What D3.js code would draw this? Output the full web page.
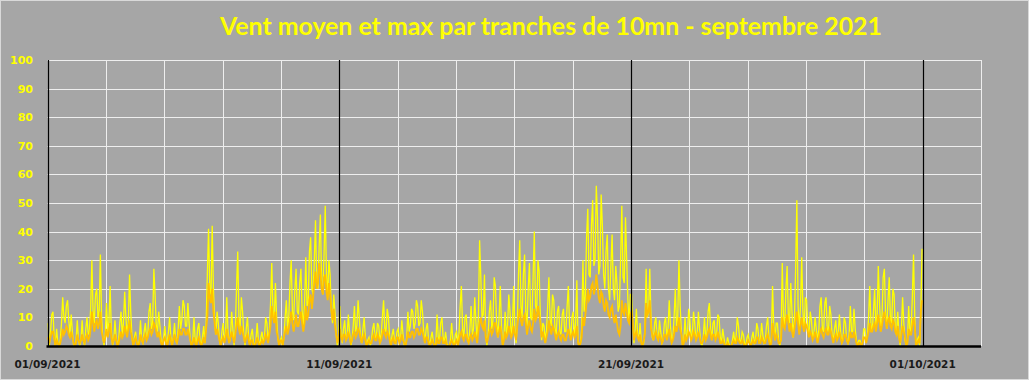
<!DOCTYPE html>
<html><head><meta charset="utf-8">
<script src="https://cdn.jsdelivr.net/npm/d3@7"></script>
<style>html,body{margin:0;padding:0;background:#a6a6a6;overflow:hidden}svg{display:block}</style>
</head><body>
<svg id="chart" width="1029" height="380"></svg>
<script>
const chartTitle = "Vent moyen et max par tranches de 10mn - septembre 2021";
const dateLabels = ["01/09/2021", "11/09/2021", "21/09/2021", "01/10/2021"];
const labelDays = [0, 10, 20, 30];
const yTicks = [0, 10, 20, 30, 40, 50, 60, 70, 80, 90, 100];
const stepHours = 2; // one slot per 2 hours, 12 per day: highest and lowest reading in each slot

// Vent max (km/h) - highest 10-min reading in each 2-hour slot, one row per day (01/09 .. 30/09)
const ventMaxHaut = [
  8,11,12,6,1,8,17,14,16,11,5,2,
  9,2,9,6,10,13,30,18,20,32,10,4,
  15,21,6,9,3,8,12,19,10,25,12,3,
  5,2,9,5,8,12,15,27,18,12,7,3,
  7,5,10,3,8,6,14,16,14,15,8,2,
  10,6,8,3,7,25,41,42,20,12,8,5,
  8,17,5,12,6,20,33,17,12,6,10,4,
  6,2,8,3,5,10,8,15,29,22,10,2,
  3,10,16,22,30,20,27,22,27,15,31,33,
  38,30,44,35,46,32,49,30,25,18,12,4,
  14,6,9,11,5,7,14,16,10,6,10,2,
  3,6,8,8,7,10,16,13,10,4,6,5,
  6,9,4,3,12,13,12,16,14,16,12,6,
  8,3,5,1,11,8,10,5,1,2,8,4,
  5,14,21,10,11,6,14,17,8,37,24,25,
  4,12,16,24,21,10,21,3,12,18,12,21,
  6,25,37,25,32,20,29,24,40,30,26,8,
  7,14,24,18,16,12,14,11,13,14,21,10,
  12,23,2,6,30,38,48,42,51,56,45,53,
  42,33,39,28,39,28,22,30,49,45,30,18,
  18,6,13,8,2,6,27,27,10,8,10,9,
  5,8,10,16,7,10,20,30,14,2,10,13,
  9,12,8,12,6,3,10,12,15,8,9,11,
  10,6,3,3,1,2,5,10,7,5,4,3,
  4,3,5,8,6,8,4,7,10,3,21,8,
  8,3,29,20,28,22,12,27,51,14,31,17,
  16,12,9,10,6,14,17,15,17,14,11,6,
  9,11,5,10,8,4,14,13,6,2,2,6,
  6,10,21,12,20,28,15,24,27,16,24,20,
  18,12,4,17,8,2,14,17,32,2,3,34
];
// Vent max - lowest 10-min reading in each 2-hour slot
const ventMaxBas = [
  0,5,3,0,0,2,10,8,9,4,0,0,
  2,0,2,0,4,5,12,8,10,12,3,0,
  5,8,0,2,0,2,4,8,4,8,3,0,
  1,0,2,1,2,4,6,8,7,5,2,0,
  2,1,3,0,2,1,6,9,7,7,2,0,
  2,1,2,0,1,8,20,18,9,4,2,0,
  2,4,1,3,0,6,10,6,4,0,3,0,
  1,0,2,0,1,3,2,5,12,9,3,0,
  0,3,6,10,12,9,12,11,12,7,14,15,
  20,18,22,20,22,18,25,17,12,8,4,0,
  4,1,2,3,0,2,5,7,3,1,3,0,
  0,2,3,3,2,4,6,5,3,0,2,1,
  2,3,0,0,5,7,6,8,7,8,5,1,
  2,0,1,0,3,2,3,1,0,0,2,0,
  1,4,6,3,3,1,4,6,2,10,10,11,
  0,4,6,9,8,3,7,0,4,7,4,7,
  1,8,14,10,12,7,10,9,14,12,10,2,
  2,5,9,7,6,4,5,4,5,5,7,3,
  3,8,0,1,12,18,25,24,28,30,25,28,
  25,20,20,16,20,16,12,14,24,22,16,8,
  8,1,4,2,0,1,10,12,3,2,3,2,
  1,2,3,6,2,3,7,10,5,0,3,4,
  3,4,2,4,1,0,3,4,6,2,3,4,
  3,1,0,0,0,0,1,3,2,1,1,0,
  1,0,1,2,1,2,1,2,3,0,7,2,
  2,0,10,7,10,8,3,9,14,6,12,6,
  6,4,3,4,2,5,6,5,6,5,4,2,
  3,4,1,3,2,1,5,5,2,0,0,1,
  2,3,7,5,7,10,6,9,11,6,9,8,
  6,4,0,6,2,0,5,6,10,0,0,12
];

// Vent moyen (km/h) - highest reading in each 2-hour slot
const ventMoyenHaut = [
  3,5,5,2,1,3,6,7,6,5,3,1,
  4,2,4,3,4,6,12,8,9,12,5,3,
  6,8,3,4,2,3,5,7,5,9,5,2,
  3,1,4,3,4,5,6,8,7,5,3,2,
  3,2,4,2,4,3,6,6,6,6,4,1,
  3,2,3,1,3,10,22,20,12,6,4,2,
  3,6,3,5,3,7,10,7,5,3,4,2,
  2,1,3,1,2,4,3,7,14,12,5,2,
  2,5,7,9,12,8,11,10,12,8,14,16,
  18,22,26,29,26,24,25,22,18,13,7,3,
  6,4,4,5,3,4,5,6,5,3,4,1,
  2,3,4,4,3,4,6,5,4,2,3,3,
  3,4,2,2,5,5,5,6,6,6,5,3,
  3,1,2,0,3,3,3,2,0,1,2,1,
  2,4,5,4,4,3,4,5,3,8,10,9,
  3,5,6,8,8,5,7,2,5,7,5,7,
  4,10,13,10,11,7,9,8,13,14,11,5,
  3,5,9,7,6,4,5,4,4,4,6,4,
  5,7,1,3,10,15,20,21,22,25,21,19,
  18,16,15,13,14,11,8,7,16,15,12,11,
  12,4,5,4,1,4,15,16,6,4,5,4,
  3,4,4,6,3,4,7,10,6,1,4,5,
  4,5,4,5,3,2,4,5,6,4,4,5,
  3,2,1,1,0,1,2,3,2,2,1,1,
  2,1,2,3,3,3,2,3,4,1,8,4,
  3,2,10,9,11,8,5,9,12,7,10,8,
  7,5,4,5,3,5,6,5,6,6,5,3,
  4,5,3,4,4,2,5,5,3,1,1,3,
  3,5,8,7,8,11,8,10,12,9,10,9,
  8,7,3,7,5,1,6,7,10,1,2,16
];
// Vent moyen - lowest reading in each 2-hour slot
const ventMoyenBas = [
  1,3,3,0,0,1,4,5,4,3,1,0,
  2,1,2,1,2,3,8,5,6,8,3,1,
  3,5,1,2,0,1,3,4,3,6,3,0,
  1,0,2,1,2,3,4,5,5,3,1,0,
  1,0,2,0,2,1,4,4,4,4,2,0,
  1,0,1,0,1,6,17,15,8,4,2,0,
  1,3,1,3,1,4,6,4,3,1,2,0,
  0,0,1,0,1,2,1,4,10,8,3,0,
  0,3,4,6,8,5,7,7,8,5,9,11,
  13,17,20,22,20,18,19,16,13,9,4,1,
  3,2,2,3,1,2,3,4,3,1,2,0,
  1,1,2,2,1,2,4,3,2,0,1,1,
  1,2,1,0,3,3,3,4,4,4,3,1,
  1,0,1,0,1,1,1,1,0,0,1,0,
  0,2,3,2,2,1,2,3,1,5,7,6,
  1,3,4,5,5,3,4,0,3,4,3,4,
  2,7,9,7,8,4,6,5,9,10,8,3,
  1,3,6,4,4,2,3,2,2,2,4,2,
  3,4,0,1,7,11,16,17,18,20,17,15,
  14,12,11,10,10,8,5,4,12,11,9,8,
  8,2,3,2,0,2,11,12,4,2,3,2,
  1,2,2,4,1,2,5,7,4,0,2,3,
  2,3,2,3,1,1,2,3,4,2,2,3,
  1,1,0,0,0,0,1,1,1,1,0,0,
  1,0,1,1,1,1,1,1,2,0,5,2,
  1,1,7,6,8,5,3,6,8,4,7,5,
  5,3,2,3,1,3,4,3,4,4,3,1,
  2,3,1,2,2,1,3,3,1,0,0,1,
  1,3,5,5,5,8,5,7,9,6,7,6,
  5,4,1,4,3,0,4,4,7,0,1,12
];

const W = 1029, H = 380;
const svg = d3.select("#chart");
const t0 = new Date(Date.UTC(2021, 8, 1));
const tEnd = new Date(Date.UTC(2021, 9, 3));
const x = d3.scaleUtc().domain([t0, tEnd]).range([47.5, 981]);
const y = d3.scaleLinear().domain([0, 100]).range([346, 60]);
const px = v => Math.round(v) + 0.5;

// each slot gives two readings: its high and its low, alternating order
function slotPoints(haut, bas) {
  const pts = [];
  haut.forEach((h, i) => {
    const s = d3.utcMinute.offset(t0, i * stepHours * 60);
    const hiFirst = i % 2 === 0;
    pts.push({ t: d3.utcMinute.offset(s, 30), v: hiFirst ? h : bas[i] });
    pts.push({ t: d3.utcMinute.offset(s, 90), v: hiFirst ? bas[i] : h });
  });
  return pts;
}

svg.append("rect").attr("x", 0.5).attr("y", 0.5).attr("width", W - 1).attr("height", H - 1)
  .attr("fill", "#a6a6a6").attr("stroke", "#d9d9d9");

// horizontal grid
svg.append("g").selectAll("line").data(yTicks.filter(d => d > 0)).join("line")
  .attr("x1", x(t0)).attr("x2", x(tEnd))
  .attr("y1", d => px(y(d))).attr("y2", d => px(y(d)))
  .attr("stroke", "#eeeeee").attr("stroke-width", 1);

// vertical grid every 2 days
const gridDays = d3.utcDay.range(t0, d3.utcDay.offset(tEnd, 1), 2);
const dayIdx = d => Math.round((d - t0) / 864e5);
svg.append("g").selectAll("line").data(gridDays.filter(d => dayIdx(d) % 10 !== 0)).join("line")
  .attr("x1", d => px(x(d))).attr("x2", d => px(x(d)))
  .attr("y1", y(100)).attr("y2", y(0))
  .attr("stroke", "#eeeeee").attr("stroke-width", 1);

// series: max (yellow) below, mean (orange) on top
const lineGen = d3.line().x(d => x(d.t)).y(d => y(d.v));
svg.append("path").datum(slotPoints(ventMaxHaut, ventMaxBas)).attr("d", lineGen)
  .attr("fill", "none").attr("stroke", "#ffff00").attr("stroke-width", 1.3);
svg.append("path").datum(slotPoints(ventMoyenHaut, ventMoyenBas)).attr("d", lineGen)
  .attr("fill", "none").attr("stroke", "#ffc000").attr("stroke-width", 1.8);

// black day lines (every 10 days)
svg.append("g").selectAll("line").data(labelDays).join("line")
  .attr("x1", d => px(x(d3.utcDay.offset(t0, d)))).attr("x2", d => px(x(d3.utcDay.offset(t0, d))))
  .attr("y1", y(100)).attr("y2", y(0))
  .attr("stroke", "#000").attr("stroke-width", 1.2);

// baseline
svg.append("line").attr("x1", x(t0) - 1).attr("x2", x(tEnd))
  .attr("y1", y(0) + 0.5).attr("y2", y(0) + 0.5)
  .attr("stroke", "#000").attr("stroke-width", 2.6);

// y labels
svg.append("g").selectAll("text").data(yTicks).join("text")
  .attr("x", 33).attr("y", d => y(d)).attr("dy", "0.36em")
  .attr("text-anchor", "end").attr("fill", "#ffff00")
  .style("font", "bold 11px 'DejaVu Sans', Verdana, sans-serif")
  .text(d => d);

// x labels
svg.append("g").selectAll("text").data(labelDays).join("text")
  .attr("x", d => x(d3.utcDay.offset(t0, d))).attr("y", 368)
  .attr("text-anchor", "middle").attr("fill", "#1a1a1a")
  .style("font", "bold 10.5px 'DejaVu Sans', Verdana, sans-serif")
  .text((d, i) => dateLabels[i]);

// title, fitted to the reference width
const title = svg.append("text").attr("x", 551).attr("y", 35)
  .attr("text-anchor", "middle").attr("fill", "#ffff00")
  .style("font-family", "Lato, 'Open Sans', sans-serif").style("font-weight", "bold")
  .style("font-size", "24px").text(chartTitle);
const tw = title.node().getComputedTextLength();
title.style("font-size", (24 * 662 / tw).toFixed(2) + "px");
</script>
</body></html>
